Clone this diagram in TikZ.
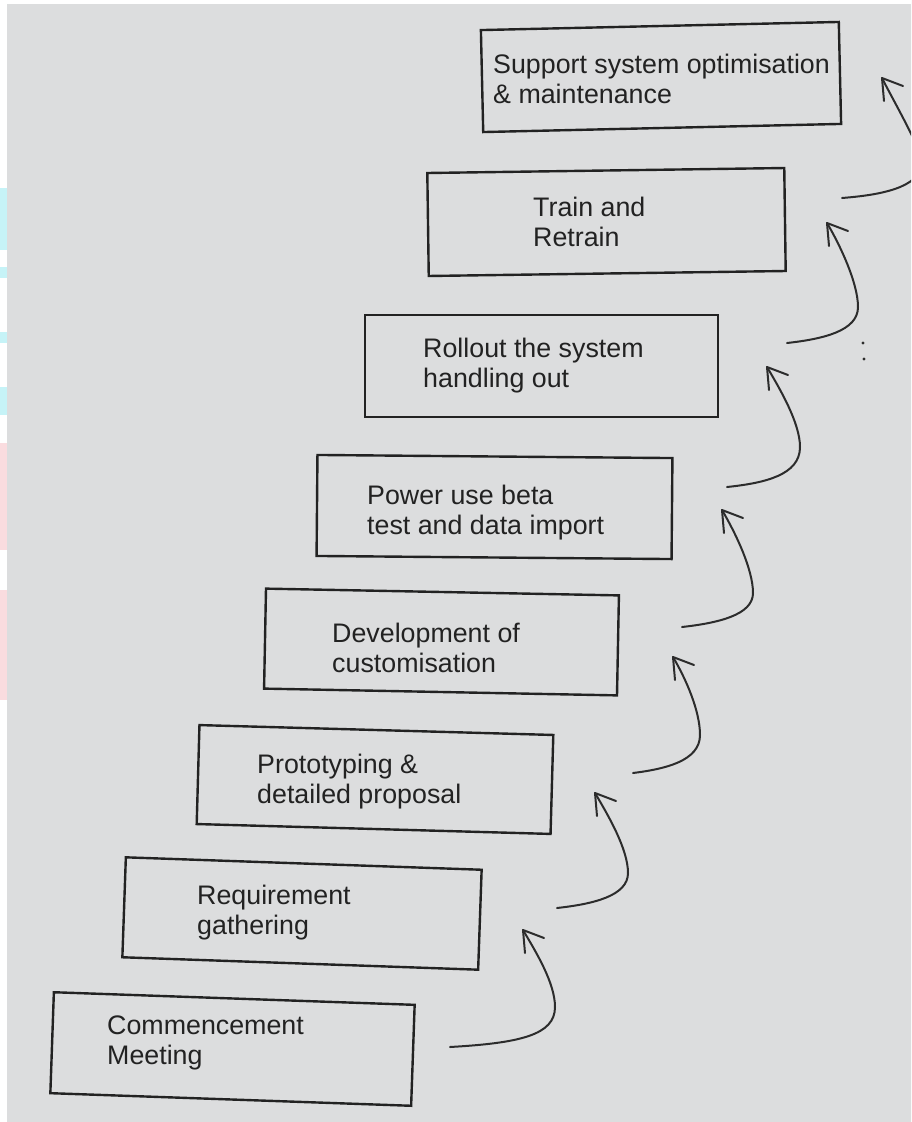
\documentclass[tikz,border=0pt]{standalone}
\usepackage{fontspec}
\setmainfont{Liberation Sans}
\usetikzlibrary{calc}
\definecolor{paper}{HTML}{DCDDDE}
\definecolor{ink}{HTML}{222222}
\definecolor{pen}{HTML}{2C2C2C}
\definecolor{fringecyan}{HTML}{C6F3F7}
\definecolor{fringepink}{HTML}{FADCDF}
\begin{document}
\begin{tikzpicture}[x=1pt,y=-1pt,
  stepbox/.style 2 args={draw=ink, line width=2.4pt, minimum width=#1pt, minimum height=#2pt, inner sep=0pt},
  steptext/.style={anchor=west, align=left, inner sep=0pt, text=ink, font=\fontsize{26.8}{30}\selectfont},
  handline/.style={draw=pen, line width=2pt, line cap=round, line join=round}]
\useasboundingbox (0,0) rectangle (911,1122);
\clip (0,0) rectangle (911,1122);
% paper
\fill[paper] (-5,-5) rectangle (920,1130);
\fill[white] (-5,-5) rectangle (7,1130);
\fill[white] (-5,-5) rectangle (920,4);
\fill[fringecyan] (-5,188) rectangle (7,250);
\fill[fringecyan] (-5,267) rectangle (7,278);
\fill[fringecyan] (-5,332) rectangle (7,343);
\fill[fringecyan] (-5,387) rectangle (7,415);
\fill[fringepink] (-5,443) rectangle (7,550);
\fill[fringepink] (-5,590) rectangle (7,700);

% boxes
\node[stepbox={361}{101}, rotate=-2]   (b1) at (232.5,1049) {};
\node[stepbox={356}{100}, rotate=-2]   (b2) at (302,913.5) {};
\node[stepbox={354}{99},  rotate=-1.6] (b3) at (375,779.5) {};
\node[stepbox={353}{100}, rotate=-1.1] (b4) at (441.5,642) {};
\node[stepbox={355}{101}, rotate=-0.5] (b5) at (494.5,507) {};
\node[stepbox={353}{102}]              (b6) at (541.5,366) {};
\node[stepbox={357}{103}, rotate=0.8]  (b7) at (606.5,222) {};
\node[stepbox={358}{102}, rotate=1.3]  (b8) at (661,77) {};

% texts
\node[steptext] (t1) at (107,1043) {Commencement\\Meeting};
\node[steptext] (t2) at (197,913) {Requirement\\gathering};
\node[steptext] (t3) at (257,782) {Prototyping \&\\detailed proposal};
\node[steptext] (t4) at (332,648) {Development of\\customisation};
\node[steptext] (t5) at (367,513) {Power use beta\\test and data import};
\node[steptext] (t6) at (423,366) {Rollout the system\\handling out};
\node[steptext] (t7) at (533,222) {Train and\\Retrain};
\node[steptext] (t8) at (493,79) {Support system optimisation\\\& maintenance};

% arrow coordinates: start, knee, head
\coordinate (s1) at (450,1047); \coordinate (k1) at (555,1007); \coordinate (h1) at (523,930);
\coordinate (s2) at (557,908);  \coordinate (k2) at (628,873);  \coordinate (h2) at (595,793);
\coordinate (s3) at (633,773);  \coordinate (k3) at (700,735);  \coordinate (h3) at (673,657);
\coordinate (s4) at (682,627);  \coordinate (k4) at (753,593);  \coordinate (h4) at (722,510);
\coordinate (s5) at (727,487);  \coordinate (k5) at (800,447);  \coordinate (h5) at (767,367);
\coordinate (s6) at (787,343);  \coordinate (k6) at (858,307);  \coordinate (h6) at (827,223);
\coordinate (s7) at (842,198);  \coordinate (k7) at (922,163);  \coordinate (h7) at (882,78);

\draw[handline] (s1) .. controls (520,1043) and (555,1035) .. (k1) .. controls (555,983) and (536,952) .. (h1);
\draw[handline] (s2) .. controls (593,904) and (628,896) .. (k2) .. controls (628,849) and (608,815) .. (h2);
\draw[handline] (s3) .. controls (665,769) and (700,761) .. (k3) .. controls (700,711) and (686,679) .. (h3);
\draw[handline] (s4) .. controls (718,623) and (753,615) .. (k4) .. controls (753,569) and (735,532) .. (h4);
\draw[handline] (s5) .. controls (765,483) and (800,475) .. (k5) .. controls (800,423) and (780,389) .. (h5);
\draw[handline] (s6) .. controls (823,339) and (858,331) .. (k6) .. controls (858,283) and (840,245) .. (h6);
\draw[handline] (s7) .. controls (880,195) and (920,188) .. (k7) .. controls (922,150) and (893,100) .. (h7);

% hand-drawn heads
\foreach \h in {h1,h2,h3,h4,h5,h6,h7}{
  \draw[handline] ($(\h)+(2,23)$) -- (\h) -- ($(\h)+(21,8)$);
}

% stray dots
\fill[pen] (863,343) circle (1.6);
\fill[pen] (864,359) circle (1.6);
\end{tikzpicture}
\end{document}
